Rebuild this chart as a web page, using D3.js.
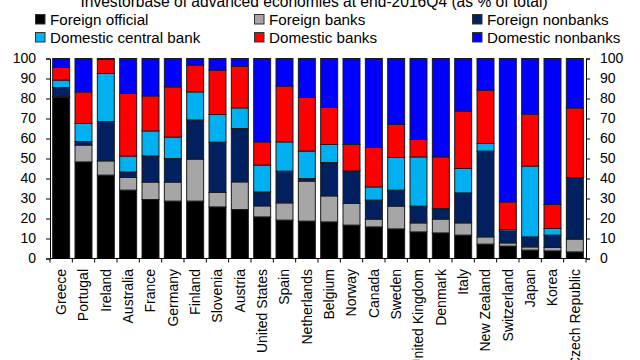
<!DOCTYPE html>
<html>
<head>
<meta charset="utf-8">
<script src="https://cdn.jsdelivr.net/npm/d3@7"></script>
<style>
  html, body { margin: 0; padding: 0; background: #fff; }
  svg { display: block; font-family: "Liberation Sans", Arial, sans-serif; }
</style>
</head>
<body>
<svg id="chart" width="640" height="360"></svg>
<script>
const countries = ["Greece","Portugal","Ireland","Australia","France","Germany","Finland","Slovenia","Austria","United States","Spain","Netherlands","Belgium","Norway","Canada","Sweden","United Kingdom","Denmark","Italy","New Zealand","Switzerland","Japan","Korea","Czech Republic"];
const seriesNames = ["Foreign official","Foreign banks","Foreign nonbanks","Domestic central bank","Domestic banks","Domestic nonbanks"];
const foreignOfficial    = [80.5,48.3,41.7,34.2,29.5,28.7,28.7,25.8,24.5,20.8,19.2,18.7,18.3,16.7,15.8,14.8,13.3,12.8,11.7,7.2,6.2,4.2,3.8,3.3];
const foreignBanks       = [0.5,8.4,7.1,6.3,8.7,9.5,21.0,7.2,13.8,5.5,8.6,20.0,13.0,10.8,3.9,11.4,4.5,6.9,6.1,3.6,1.6,1.6,1.7,6.4];
const foreignNonbanks    = [4.5,1.8,19.7,2.8,13.1,11.8,19.6,25.2,26.7,7.0,15.9,1.3,16.7,16.3,9.5,8.0,8.4,5.3,15.0,42.9,6.0,5.0,6.2,30.8];
const domesticCentral    = [3.7,9.0,24.0,7.9,12.5,10.7,14.0,13.8,10.3,13.4,14.6,13.7,9.0,0,6.6,16.3,24.6,0,12.2,3.8,0.7,35.4,3.3,0];
const domesticBanks      = [6.3,15.8,7.0,31.3,17.5,25.1,13.4,22.2,20.9,11.6,27.9,26.8,18.5,13.2,19.7,16.5,8.7,25.8,28.7,26.7,13.8,26.0,12.0,34.8];
const domesticNonbanks   = [4.5,16.7,0.5,17.5,18.7,14.2,3.3,5.8,3.8,41.7,13.8,19.5,24.5,43.0,44.5,33.0,40.5,49.2,26.3,15.8,71.7,27.8,73.0,24.7];
const yTicks = [0,10,20,30,40,50,60,70,80,90,100];
const colors = ["#000000","#a6a6a6","#002060","#00b0f0","#ff0000","#0000ff"];
const titleText = "Investorbase of advanced economies at end-2016Q4 (as % of total)";

const seriesValues = [foreignOfficial, foreignBanks, foreignNonbanks, domesticCentral, domesticBanks, domesticNonbanks];
const rows = countries.map((c, i) => {
  const r = { country: c };
  seriesNames.forEach((s, k) => r[s] = seriesValues[k][i]);
  return r;
});

const svg = d3.select("#chart");
const mLeft = 50, mRight = 586, mTop = 58.5, mBottom = 258.5;

const x = d3.scaleBand().domain(countries).range([mLeft, mRight]).paddingInner(0.24).paddingOuter(0.12);
const y = d3.scaleLinear().domain([0, 100]).range([mBottom, mTop]);
const color = d3.scaleOrdinal().domain(seriesNames).range(colors);

const stacked = d3.stack().keys(seriesNames)(rows);

// Title
svg.append("text").attr("x", 314).attr("y", 6.5).attr("text-anchor", "middle")
  .attr("font-size", 15.6).attr("fill", "#000").text(titleText);

// Legend
const legendPos = [[35,14],[254,14],[472,14],[35,32],[254,32],[472,32]];
seriesNames.forEach((name, k) => {
  const [lx, ly] = legendPos[k];
  const g = svg.append("g").attr("transform", `translate(${lx},${ly})`);
  g.append("rect").attr("x", 0.5).attr("y", 0.5).attr("width", 9.5).attr("height", 9.5)
    .attr("fill", colors[k]).attr("stroke", "#333").attr("stroke-width", 1);
  g.append("text").attr("x", 15).attr("y", 10.8).attr("font-size", 15.2).attr("fill", "#000").text(name);
});

// Bars
svg.append("g").selectAll("g").data(stacked).join("g")
  .attr("fill", d => color(d.key))
  .selectAll("rect").data(d => d).join("rect")
  .attr("x", d => x(d.data.country))
  .attr("width", x.bandwidth())
  .attr("y", d => y(d[1]))
  .attr("height", d => Math.max(0, y(d[0]) - y(d[1])))
  .attr("stroke", "#1a1a1a").attr("stroke-width", 1);

// Y axes
const axL = svg.append("g").attr("transform", `translate(${mLeft},0)`)
  .call(d3.axisLeft(y).tickValues(yTicks).tickSize(4).tickPadding(10));
const axR = svg.append("g").attr("transform", `translate(${mRight},0)`)
  .call(d3.axisRight(y).tickValues(yTicks).tickSize(4).tickPadding(10));
[axL, axR].forEach(a => {
  a.selectAll("text").attr("font-size", 14).attr("fill", "#000").attr("font-family", "Liberation Sans, Arial, sans-serif");
  a.selectAll("line, path").attr("stroke", "#000");
});

// X axis baseline and boundary ticks
svg.append("line").attr("x1", mLeft).attr("x2", mRight).attr("y1", mBottom).attr("y2", mBottom).attr("stroke", "#000");
const gap = (x.step() - x.bandwidth()) / 2;
const bounds = countries.map(c => x(c) - gap).concat([x(countries[countries.length - 1]) + x.bandwidth() + gap]);
svg.append("g").selectAll("line").data(bounds).join("line")
  .attr("x1", d => d).attr("x2", d => d).attr("y1", mBottom).attr("y2", mBottom + 4).attr("stroke", "#000");

// X labels
svg.append("g").selectAll("text").data(countries).join("text")
  .attr("transform", d => `translate(${x(d) + x.bandwidth() / 2},269) rotate(-90)`)
  .attr("dy", "0.35em").attr("text-anchor", "end").attr("font-size", 14).attr("fill", "#000")
  .text(d => d);
</script>
</body>
</html>
